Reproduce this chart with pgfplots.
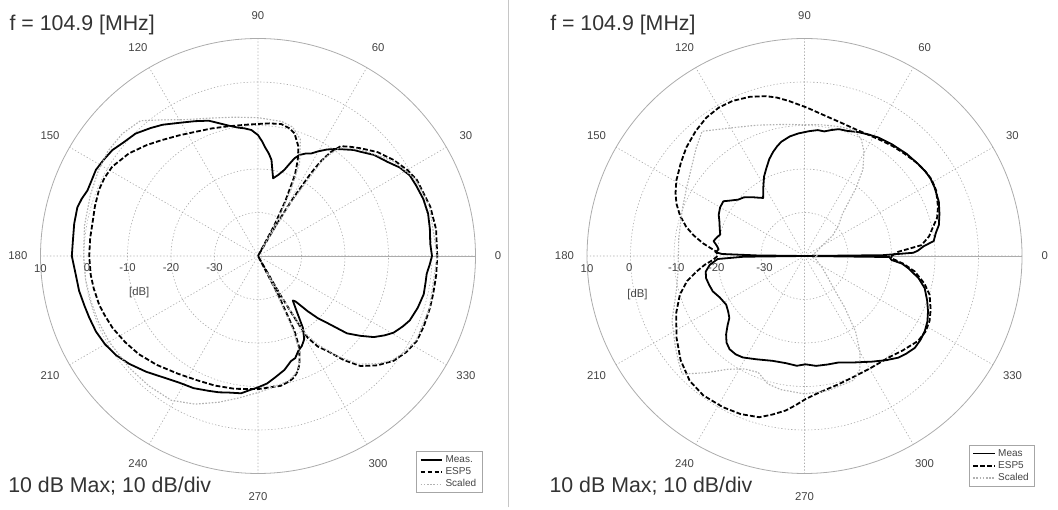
\documentclass[border=0pt]{standalone}
\usepackage{fontspec}
\setmainfont{Liberation Sans}
\usepackage{pgfplots}
\usepgfplotslibrary{polar}
\pgfplotsset{compat=1.18}
\usepackage{pgfplotstable}

% ---------------- left panel ----------------
\pgfplotstableread{
a db
0 0.0
4 -0.3
9 0.0
14 0.3
19 0.2
24 -0.2
28 -0.5
32 -1.6
36 -3.2
41 -4.6
45.5 -6.4
48 -7.2
51.6 -8.7
54 -9.6
57 -10.8
60 -12.2
62.7 -13.5
65 -14.0
67.7 -14.9
69.5 -16.0
71 -17.5
73 -19.3
76 -20.8
79 -21.8
80.5 -20.0
82 -17.7
84 -16.3
86.5 -14.8
88 -13.6
90 -12.2
93 -11.0
96 -10.5
99 -10.1
103 -9.2
106 -8.3
110 -6.9
115 -5.8
120 -4.6
126 -2.7
130 -1.6
135 -0.2
140 0.5
144 1.4
148 1.8
152 2.2
156 2.0
159 2.0
162 2.6
165 3.0
170 2.9
175 2.7
180 2.8
186 2.1
191 1.9
196 1.5
200 1.3
205 1.1
210 0.6
215 -0.2
220 -1.4
226 -3.0
232 -4.6
238 -5.7
244 -6.2
250 -7.0
254 -7.4
258 -7.9
263 -8.2
266 -9.0
270 -9.8
274 -10.6
278 -11.8
283 -13.1
287.5 -14.7
290 -15.0
293 -16.3
296 -17.0
299 -18.1
302 -20.5
305 -24.5
308 -27.0
309.5 -26.5
312 -22.9
314 -20.0
316 -17.8
319 -12.9
322 -10.2
325 -7.5
328 -5.6
330.5 -4.2
334 -3.0
337 -2.1
342 -1.4
347 -0.9
351 -1.0
354 -1.0
357 -0.5
360 0.0
}\LeftMeas

\pgfplotstableread{
a db
0 1.2
8.5 1.4
16 1.2
25.6 0.5
30 -0.4
35.3 -1.8
41 -3.6
46.4 -5.8
50 -7.2
53 -8.4
55 -10.8
56.5 -14
57.4 -17.4
58.6 -24
59.6 -31
60.5 -40
62 -32
63.5 -26
65.5 -19.5
67.5 -16.1
69.7 -13.2
73.4 -10.6
76 -9.8
80 -9.2
85 -9.4
88.6 -9.6
95 -9.7
103 -9.4
110 -8.8
117 -8.0
123 -6.9
129.6 -5.4
135 -3.9
141.5 -2.1
148.5 -0.7
153 -0.4
157.4 -0.4
163 -0.8
168.7 -1.2
174 -1.2
180 -1.2
186.4 -1.3
191 -1.5
197 -1.8
201 -2.2
206.3 -2.7
213 -3.6
219.5 -4.5
227 -5.8
236 -7.3
244 -8.2
251.6 -8.6
260 -9.0
270 -9.4
280 -9.7
284 -10.3
286.7 -10.9
289 -12.0
291 -13.4
294.3 -16.9
296 -21
297.5 -30
298.5 -40
299.8 -30
300.6 -24
301.3 -18
303.5 -15
306.2 -12.9
309.5 -9.0
313 -5.4
317.5 -2.8
322.3 -0.6
327 0.6
331.8 1.4
337 1.4
343.2 1.3
348 1.2
354 1.2
360 1.2
}\LeftEsp

\pgfplotstableread{
a db
0 1.2
16 1.0
26 0.3
35 -2.0
46 -6.0
53 -8.8
56 -13
58.5 -26
59.8 -38
61.5 -30
63.5 -23
66 -16.5
70 -11.5
75 -9.3
80 -8.6
90 -8.2
100 -7.6
110 -6.3
118 -4.5
125 -1.8
131 1.2
138 2.0
145 2.1
152 1.6
160 1.0
170 0.5
180 0.1
188 0.0
195 -0.2
202 -0.3
210 -0.5
221 -0.8
230 -1.0
239 -1.3
247 -3.0
255 -5.2
262 -7.0
270 -8.6
278 -9.8
284 -10.5
289 -12
293 -15
295.5 -21
297.2 -33
298.8 -36
300.2 -27
301.5 -19
304 -15.5
308 -11
313 -6
318 -3
322 -1
327 0.4
332 1.2
343 1.2
360 1.2
}\LeftScaled

% ---------------- right panel ----------------
\pgfplotstableread{
a db
0 -40
0.6 -22
1.7 -15
2.6 -14
4.7 -12.5
6.6 -10.1
9.8 -9.4
13 -8.3
17.4 -7.5
22 -6.7
27.9 -6.2
31.7 -6.0
35 -6.1
39 -6.4
45 -6.8
52.1 -7.4
58 -7.9
62 -8.4
66.9 -9.0
71 -9.6
74.9 -9.8
78 -10.4
81 -11.0
84 -10.9
88 -11.3
93 -11.8
97 -12.3
101.5 -13.2
104 -14.0
106.8 -15.0
110 -16.3
113.5 -18.0
117 -19.5
121 -21.6
125.5 -23.6
128 -23.0
132 -21.8
136 -20.6
139.6 -20.0
143 -18.8
146 -17.5
150 -17.6
154.3 -18.1
158 -18.9
162 -19.5
165.7 -20.0
168 -19.4
170.7 -18.8
173 -19.6
175.6 -20.2
177.5 -19.5
178.6 -21
179.3 -29
180 -40
180.7 -26
182 -20
185.4 -18.1
189 -17.0
192.7 -16.8
197 -17.1
201.1 -17.4
206 -18.3
211.8 -18.8
216 -18.3
219.5 -17.6
222 -16.2
225 -14.5
228 -13.2
231.2 -12.5
235 -12.4
238.7 -12.7
245 -13.8
253 -14.8
260 -15.0
266 -14.7
270.5 -15.1
276 -14.6
282 -14.5
287.7 -14.3
295 -13.0
302.5 -11.2
308 -9.6
312.7 -8.2
316 -7.6
320.2 -7.0
324 -7.1
328 -7.4
332 -8.0
335.9 -8.9
340 -10.0
345 -11.4
349 -13.3
353.3 -16.0
355.5 -17.5
357.4 -20.0
359.3 -20.5
360 -40
}\RightMeas

\pgfplotstableread{
a db
0 -20
2.6 -18.4
5.3 -13.0
9 -11.0
12.8 -9.7
16 -8.3
20.2 -7.3
26.4 -6.2
31 -5.9
35.4 -6.1
40 -6.5
45.5 -7.1
51 -7.6
56.2 -8.1
62 -8.5
68.2 -8.6
75 -8.2
82.9 -7.2
89 -5.9
95.7 -4.2
100 -3.0
103.6 -2.2
109 -1.3
114.9 -0.7
120 -0.6
125.4 -1.0
131 -1.9
137.4 -3.1
143 -4.4
149.5 -5.8
154 -7.0
157.8 -8.2
162 -9.9
166.2 -12.0
169.5 -14.1
172.9 -16.5
175 -18.2
177.2 -19.7
180 -20
182.5 -18.9
185 -17.0
188.2 -14.9
192 -12.4
197.2 -10
204 -7.7
212.5 -5.1
220 -2.8
227.4 -1.0
234 -0.4
241.6 -0.5
248 -0.8
254.3 -1.5
258.5 -2.8
263 -4.2
266.5 -5.6
270.4 -7.1
276 -8.4
284.9 -9.5
292 -10.0
300 -10.1
309.5 -9.7
316 -8.7
323.2 -7.4
328 -7.2
332.5 -7.6
337 -8.5
342.8 -9.9
347 -11.7
352 -14.4
355.5 -17.2
358.5 -20
360 -20
}\RightEsp

\pgfplotstableread{
a db
0 -37
10 -38
20 -37
30 -35.5
36 -32
42 -29.5
48 -27
52.8 -20.5
56 -16
60.3 -12.4
64 -10.2
68.5 -8.9
75 -9.2
83 -9.6
90 -9.8
100 -9.3
110 -8
120 -6
129.4 -2.9
135 -4.8
142 -7
150 -8.7
158 -9.8
165 -10.5
172 -10.8
180 -11
188 -10.6
195 -9.5
200 -8.2
206 -6.1
215.4 -3.6
220 -2.2
224 -0.9
230 -5
236 -8.6
242 -10.6
248.3 -11.2
251 -10.4
254 -9.4
260 -8.8
270 -8.3
280 -8.6
291.5 -9.3
296 -11
300 -14.5
304 -19
308 -25
312 -30
318 -33
326 -35
334 -36.5
342 -37
350 -38
360 -37
}\RightScaled

\definecolor{txt}{HTML}{333333}
\definecolor{lbl}{HTML}{444444}

\pgfplotsset{
  mypolar/.style={
    width=326.25pt, height=326.25pt, scale only axis,
    anchor=center,
    xmin=0, xmax=360, ymin=0, ymax=50,
    xtick={0,30,...,330}, ytick={10,20,30,40},
    xticklabel=\empty, yticklabel=\empty,
    major tick length=0pt,
    grid=major,
    major grid style={gray!65, line width=0.45pt, dash pattern=on 1pt off 1.5pt},
    axis line style={gray!65, line width=0.6pt},
    clip=false,
    legend cell align=left,
    legend image code/.code={\draw[##1] (0pt,0pt) -- (16pt,0pt);},
    legend style={font=\fontsize{7.5}{8}\selectfont, text=lbl, draw=gray!70,
      line width=0.5pt, inner xsep=2.5pt, inner ysep=1pt, row sep=-1.6pt,
      anchor=south east},
  },
  meas/.style={black, line width=1.35pt, line join=round},
  esp/.style={black, line width=1.35pt, dash pattern=on 3.6pt off 1.6pt, line join=round},
  scaled/.style={gray!60, line width=0.85pt, dash pattern=on 1.2pt off 1.2pt},
}

\begin{document}
\begin{tikzpicture}
\path[use as bounding box] (0pt,0pt) rectangle (793.5pt,382.5pt);

% separator
\draw[gray!45, line width=0.5pt] (381pt,2pt) -- (381pt,382.5pt);

% ---------- left polar plot ----------
\begin{polaraxis}[mypolar,
  at={(193.5pt,190.5pt)},
  legend style={at={(axis description cs:1.016,-0.045)}},
]
\addplot[meas] table[x=a, y expr=\thisrow{db}+40] {\LeftMeas};
\addlegendentry{Meas.}
\addplot[esp] table[x=a, y expr=\thisrow{db}+40] {\LeftEsp};
\addlegendentry{ESP5}
\addplot[scaled] table[x=a, y expr=\thisrow{db}+40] {\LeftScaled};
\addlegendentry{Scaled}
\pgfplotsinvokeforeach{0,30,...,330}{
  \node[font=\fontsize{8.5}{9}\selectfont, text=lbl] at (axis cs:#1,55.2) {#1};
}
\node[font=\fontsize{8.5}{9}\selectfont, text=lbl, yshift=-9.5pt] at (axis cs:180,50) {10};
\node[font=\fontsize{8.5}{9}\selectfont, text=lbl, yshift=-9pt] at (axis cs:180,39.3) {0};
\node[font=\fontsize{8.5}{9}\selectfont, text=lbl, yshift=-9pt] at (axis cs:180,30) {-10};
\node[font=\fontsize{8.5}{9}\selectfont, text=lbl, yshift=-9pt] at (axis cs:180,20) {-20};
\node[font=\fontsize{8.5}{9}\selectfont, text=lbl, yshift=-9pt] at (axis cs:180,10) {-30};
\node[font=\fontsize{8.5}{9}\selectfont, text=lbl] at (axis cs:197.3,28.6) {[dB]};
\end{polaraxis}

% ---------- right polar plot ----------
\begin{polaraxis}[mypolar,
  at={(603.4pt,190.5pt)},
  legend style={at={(axis description cs:1.030,-0.031)}},
]
\addplot[meas] table[x=a, y expr=\thisrow{db}+40] {\RightMeas};
\addlegendentry{Meas}
\addplot[esp] table[x=a, y expr=\thisrow{db}+40] {\RightEsp};
\addlegendentry{ESP5}
\addplot[scaled] table[x=a, y expr=\thisrow{db}+40] {\RightScaled};
\addlegendentry{Scaled}
\pgfplotsinvokeforeach{0,30,...,330}{
  \node[font=\fontsize{8.5}{9}\selectfont, text=lbl] at (axis cs:#1,55.2) {#1};
}
\node[font=\fontsize{8.5}{9}\selectfont, text=lbl, yshift=-9.5pt] at (axis cs:180,50) {10};
\node[font=\fontsize{8.5}{9}\selectfont, text=lbl, yshift=-9pt] at (axis cs:180,40.3) {0};
\node[font=\fontsize{8.5}{9}\selectfont, text=lbl, yshift=-9pt] at (axis cs:180,29.5) {-10};
\node[font=\fontsize{8.5}{9}\selectfont, text=lbl, yshift=-9pt] at (axis cs:180,20.3) {-20};
\node[font=\fontsize{8.5}{9}\selectfont, text=lbl, yshift=-9pt] at (axis cs:180,9.2) {-30};
\node[font=\fontsize{8.5}{9}\selectfont, text=lbl] at (axis cs:193,39.4) {[dB]};
\end{polaraxis}

% ---------- titles and notes ----------
\node[anchor=base west, inner sep=0pt, font=\fontsize{16}{18}\selectfont, text=txt] at (7pt,359.5pt) {f = 104.9 [MHz]};
\node[anchor=base west, inner sep=0pt, font=\fontsize{16}{18}\selectfont, text=txt] at (6pt,12.75pt) {10 dB Max; 10 dB/div};
\node[anchor=base west, inner sep=0pt, font=\fontsize{16}{18}\selectfont, text=txt] at (412.5pt,359.5pt) {f = 104.9 [MHz]};
\node[anchor=base west, inner sep=0pt, font=\fontsize{16}{18}\selectfont, text=txt] at (412pt,12.75pt) {10 dB Max; 10 dB/div};
\end{tikzpicture}
\end{document}
